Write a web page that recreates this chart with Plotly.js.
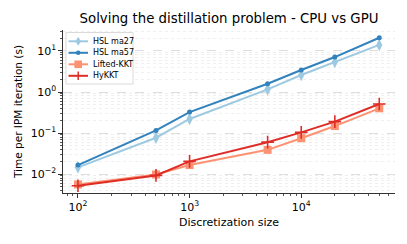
<!DOCTYPE html>
<html><head><meta charset="utf-8">
<script src="https://cdn.plot.ly/plotly-3.0.1.min.js"></script>
<style>html,body{margin:0;padding:0;background:#fff;}#c{width:407px;height:244px;}</style>
</head><body><div id="c"></div>
<script>
// ---- data ----
const sizes = [100, 500, 1000, 5000, 10000, 20000, 50000];
const ma27 = [0.0146, 0.077, 0.22, 1.16, 2.6, 5.4, 14];
const ma57 = [0.0166, 0.116, 0.325, 1.59, 3.44, 7.1, 21];
const lifted = [0.0056, 0.0098, 0.0166, 0.039, 0.075, 0.148, 0.40];
const hykkt = [0.0052, 0.0093, 0.0204, 0.060, 0.104, 0.19, 0.51];
const names = ["HSL ma27", "HSL ma57", "Lifted-KKT", "HyKKT"];
const colors = ["#9ecae1", "#3182bd", "#fc9272", "#de2d26"];
const xTickVals = [100, 1000, 10000];
const xTickText = ["10<sup>2</sup>", "10<sup>3</sup>", "10<sup>4</sup>"];
const yTickVals = [0.01, 0.1, 1, 10];
const yTickText = ["10<sup>−2</sup>", "10<sup>−1</sup>", "10<sup>0</sup>", "10<sup>1</sup>"];
const xMinor = [80, 90, 200, 300, 400, 500, 600, 700, 800, 900, 2000, 3000, 4000, 5000, 6000, 7000, 8000, 9000, 20000, 30000, 40000, 50000, 60000];
const yMinor = [0.004, 0.005, 0.006, 0.007, 0.008, 0.009, 0.02, 0.03, 0.04, 0.05, 0.06, 0.07, 0.08, 0.09,
                0.2, 0.3, 0.4, 0.5, 0.6, 0.7, 0.8, 0.9, 2, 3, 4, 5, 6, 7, 8, 9, 20, 30];

// ---- layout geometry (pixels) ----
const W = 407, H = 244;
const M = {l: 63, r: 12, t: 30, b: 51};
const PW = W - M.l - M.r, PH = H - M.t - M.b;
const px = v => (v - M.l) / PW;      // pixel x -> paper
const py = v => (H - M.b - v) / PH;  // pixel y -> paper

const font = "DejaVu Sans, sans-serif";
const markerDefs = [
  {symbol: "diamond-tall", size: 9},
  {symbol: "circle", size: 5},
  {symbol: "square", size: 8},
  {symbol: "cross-thin-open", size: 9}
];
const series = [ma27, ma57, lifted, hykkt];
const traces = series.map((ys, i) => ({
  x: sizes, y: ys, name: names[i], mode: "lines+markers", showlegend: false,
  line: {color: colors[i], width: 2},
  marker: {symbol: markerDefs[i].symbol, size: markerDefs[i].size, color: colors[i],
           line: {width: i === 3 ? 1.6 : 0, color: colors[i]}}
}));

// ---- custom compact legend ----
const leg = {x0: 66, x1: 133, y0: 32.5, y1: 84, rowY: [41.3, 52.8, 64.3, 75.8], lineX0: 68.5, lineX1: 88, mx: 78.2, textX: 91};
const shapes = [];
const annotations = [];
shapes.push({type: "rect", xref: "paper", yref: "paper", x0: px(leg.x0), x1: px(leg.x1), y0: py(leg.y1), y1: py(leg.y0),
             line: {color: "#d0d0d0", width: 0.8}, fillcolor: "rgba(255,255,255,0.85)", layer: "above"});
names.forEach((nm, i) => {
  const yy = leg.rowY[i], c = colors[i];
  shapes.push({type: "line", xref: "paper", yref: "paper", x0: px(leg.lineX0), x1: px(leg.lineX1), y0: py(yy), y1: py(yy),
               line: {color: c, width: 2}, layer: "above"});
  const m = leg.mx;
  if (i === 0) {
    const h = 4.5, w = 2.8;
    shapes.push({type: "path", xref: "paper", yref: "paper", layer: "above", fillcolor: c, line: {width: 0},
      path: `M ${px(m)} ${py(yy - h)} L ${px(m + w)} ${py(yy)} L ${px(m)} ${py(yy + h)} L ${px(m - w)} ${py(yy)} Z`});
  } else if (i === 1) {
    const r = 2.3;
    shapes.push({type: "circle", xref: "paper", yref: "paper", layer: "above", fillcolor: c, line: {width: 0},
      x0: px(m - r), x1: px(m + r), y0: py(yy + r), y1: py(yy - r)});
  } else if (i === 2) {
    const s = 3.8;
    shapes.push({type: "rect", xref: "paper", yref: "paper", layer: "above", fillcolor: c, line: {width: 0},
      x0: px(m - s), x1: px(m + s), y0: py(yy + s), y1: py(yy - s)});
  } else {
    const s = 4.2;
    shapes.push({type: "line", xref: "paper", yref: "paper", layer: "above", line: {color: c, width: 1.5},
      x0: px(m), x1: px(m), y0: py(yy + s), y1: py(yy - s)});
  }
  annotations.push({xref: "paper", yref: "paper", x: px(leg.textX), y: py(yy), xanchor: "left", yanchor: "middle",
    text: nm, showarrow: false, font: {size: 8, family: font, color: "#000"}});
});

const layout = {
  width: W, height: H,
  margin: M,
  paper_bgcolor: "#fff", plot_bgcolor: "#fff",
  font: {family: font, color: "#000", size: 11},
  title: {text: "Solving the distillation problem - CPU vs GPU", font: {size: 13.3, family: font, color: "#000"},
          x: 229 / W, xanchor: "center", y: 1 - 18.5 / H, yanchor: "middle"},
  showlegend: false,
  shapes: shapes,
  annotations: annotations,
  xaxis: {type: "log", range: [1.866, 4.84], tickmode: "array", tickvals: xTickVals, ticktext: xTickText,
          showgrid: false, zeroline: false, showline: true, linecolor: "#333", linewidth: 1.1,
          ticks: "outside", ticklen: 3.5, tickwidth: 1, tickcolor: "#333", tickfont: {size: 11},
          minor: {tickmode: "array", tickvals: xMinor, ticks: "outside", ticklen: 2, tickcolor: "#555",
                  showgrid: false, gridcolor: "rgba(0,0,0,0)"},
          title: {text: "Discretization size", font: {size: 11}, standoff: 5}},
  yaxis: {type: "log", range: [-2.46, 1.51], tickmode: "array", tickvals: yTickVals, ticktext: yTickText,
          showgrid: true, gridcolor: "#d0d0d0", griddash: "dash", gridwidth: 0.7,
          zeroline: false, showline: true, linecolor: "#333", linewidth: 1.1,
          ticks: "outside", ticklen: 3.5, tickwidth: 1, tickcolor: "#333", tickfont: {size: 11},
          minor: {tickmode: "array", tickvals: yMinor, ticks: "outside", ticklen: 2, tickcolor: "#555",
                  showgrid: true, gridcolor: "#e4e4e4", griddash: "dot", gridwidth: 0.6},
          title: {text: "Time per IPM iteration (s)", font: {size: 10.5}, standoff: 6}}
};
Plotly.newPlot("c", traces, layout, {displayModeBar: false, staticPlot: true});
</script></body></html>
